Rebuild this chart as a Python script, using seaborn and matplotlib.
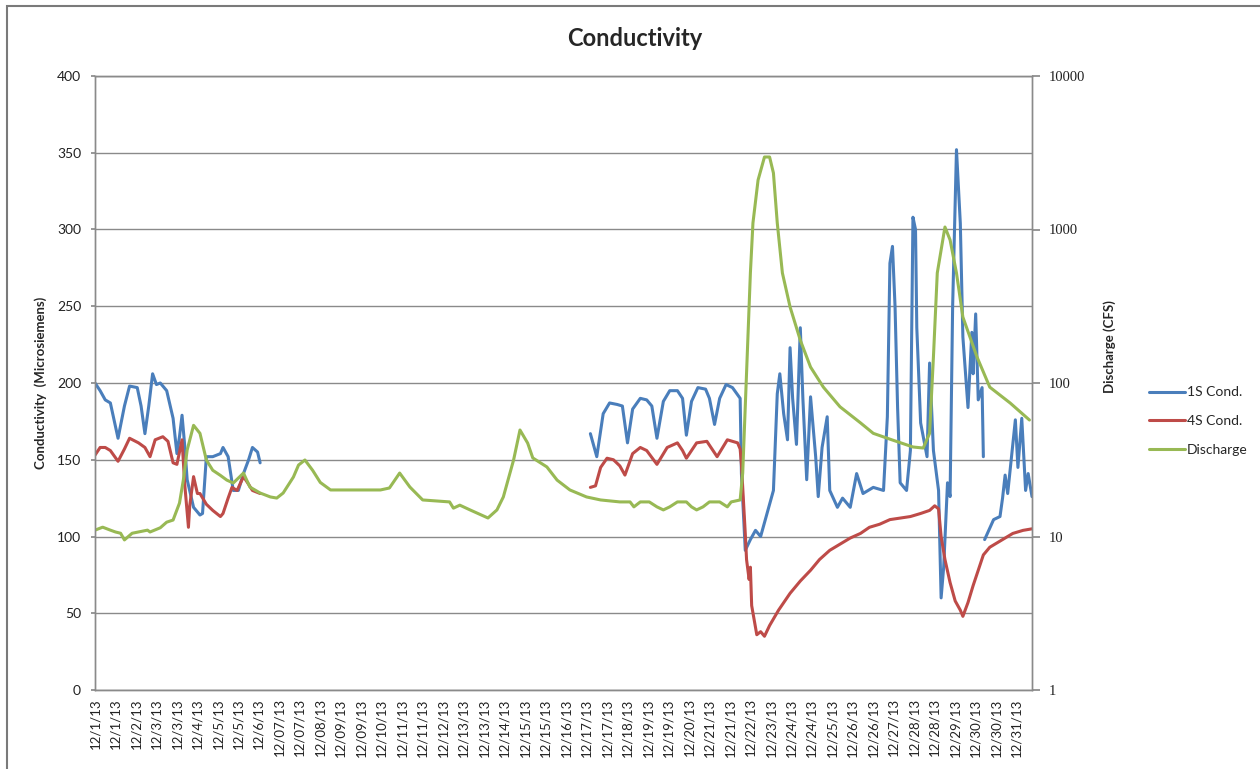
import numpy as np
import pandas as pd
import seaborn as sns
import matplotlib.pyplot as plt
from matplotlib.lines import Line2D
from matplotlib.patches import Rectangle

# hours since 12/1/13 00:00
blue1_h = [0, 4, 8, 12, 18, 23, 27, 33, 36, 39, 42, 45, 48, 51, 56, 61, 64, 66, 68, 70,
           72, 77, 82, 84, 87, 92, 98, 100, 104, 108, 112, 116, 120, 123, 127, 129]
blue1_v = [200, 195, 189, 187, 164, 185, 198, 197, 185, 167, 185, 206, 199, 200, 195, 177, 154, 165, 179, 160,
           137, 119, 114, 115, 152, 152, 154, 158, 152, 130, 130, 141, 150, 158, 155, 148]

blue2_h = [387, 392, 397, 402, 408, 412, 416, 420, 426, 431, 435, 439, 444, 449, 455, 459, 462, 466, 471, 477,
           480, 484, 488, 493, 498, 504, 505, 508, 512, 516, 520, 525, 530, 533, 535, 538, 541, 543, 545, 548,
           551, 553, 556, 559, 563, 565, 568, 572, 574, 580, 584, 590, 595, 600, 608, 616, 619, 621, 623, 625,
           627, 629, 634, 637, 639, 641, 642, 645, 650, 652, 655, 659, 661, 663, 666, 668, 670, 673, 676, 678,
           682, 685, 686, 688, 690, 693, 694]
blue2_v = [167, 152, 180, 187, 186, 185, 161, 183, 190, 189, 185, 164, 188, 195, 195, 190, 166, 188, 197, 196,
           190, 173, 190, 199, 197, 190, 141, 91, 98, 104, 100, 115, 130, 193, 206, 180, 163, 223, 190, 160,
           236, 190, 137, 191, 152, 126, 158, 178, 130, 119, 125, 119, 141, 128, 132, 130, 178, 278, 289, 250,
           184, 135, 130, 156, 308, 300, 236, 174, 152, 213, 156, 130, 60, 80, 135, 126, 250, 352, 304, 230,
           184, 233, 206, 245, 189, 197, 152]

blue3_h = [695, 702, 707, 709, 711, 713, 716, 719, 721, 724, 727, 729, 732]
blue3_v = [98, 111, 113, 125, 140, 128, 152, 176, 145, 177, 130, 141, 126]

red1_h = [0, 4, 8, 12, 18, 23, 27, 34, 39, 43, 47, 53, 57, 61, 64, 68, 70, 73, 74, 77,
          80, 82, 87, 92, 98, 100, 104, 107, 111, 116, 120, 123, 129]
red1_v = [153, 158, 158, 156, 149, 157, 164, 161, 158, 152, 163, 165, 162, 148, 147, 163, 135, 106, 120, 139,
          128, 128, 121, 117, 113, 115, 125, 132, 130, 139, 134, 130, 128]

red2_h = [387, 391, 395, 400, 405, 410, 414, 420, 426, 431, 439, 447, 455, 459, 462, 470, 478, 486, 494, 502,
          504, 505, 508, 509, 511, 512, 513, 517, 520, 523, 527, 534, 543, 551, 559, 566, 574, 582, 590, 598,
          605, 613, 621, 629, 637, 645, 652, 656, 659, 661, 664, 668, 672, 676, 678, 682, 686, 690, 694, 699,
          707, 717, 725, 732]
red2_v = [132, 133, 145, 151, 150, 146, 140, 154, 158, 156, 147, 158, 161, 156, 151, 161, 162, 152, 163, 161,
          157, 147, 102, 85, 72, 80, 55, 36, 38, 35, 42, 52, 63, 71, 78, 85, 91, 95, 99, 102,
          106, 108, 111, 112, 113, 115, 117, 120, 118, 100, 85, 70, 58, 52, 48, 57, 68, 78, 88, 93,
          97, 102, 104, 105]

flow_h = [0, 6, 12, 16, 20, 23, 29, 41, 43, 51, 56, 61, 66, 69, 72, 77, 82, 87, 92, 98,
          103, 108, 116, 121, 129, 137, 142, 147, 155, 159, 164, 170, 176, 184, 195, 207, 223, 230, 238, 246,
          256, 277, 280, 285, 293, 307, 314, 319, 327, 332, 338, 342, 353, 361, 371, 384,
          395, 410, 418, 421, 426, 433, 439, 444, 449, 455, 462, 466, 470, 475, 480, 488, 494, 497, 504,
          506, 509, 512, 514, 518, 523, 527, 530, 533, 537, 543, 551, 559, 569, 582,
          598, 608, 623, 639, 647, 652, 655, 658, 664, 668, 673, 678, 689, 699, 715, 730]
flow_cfs = [11.0, 11.5, 11.0, 10.7, 10.5, 9.5, 10.5, 11.0, 10.7, 11.4, 12.4, 12.8, 16.5, 23.3, 36.6, 53, 47, 31.5, 27, 25,
            23.3, 22.3, 25.9, 21, 19.2, 18.1, 17.8, 19.2, 24.4, 29.2, 31.5, 27, 22.5, 20.1, 20.1, 20.1, 20.1, 20.7, 25.9, 21,
            17.3, 16.8, 15.3, 16, 14.9, 13.2, 14.9, 18.1, 31.5, 49.4, 40.6, 32.5, 28.4, 23.3, 20.1, 18.1,
            17.3, 16.8, 16.8, 15.6, 16.8, 16.8, 15.6, 14.9, 15.6, 16.8, 16.8, 15.6, 14.9, 15.6, 16.8, 16.8, 15.6, 16.8, 17.3,
            25.9, 116, 521, 1103, 2100, 2967, 2967, 2334, 1103, 521, 313, 190, 127, 94, 70,
            55, 47, 42.5, 38.3, 37.7, 47, 148, 521, 1038, 855, 521, 269, 148, 94, 74, 57.4]

date_labels = ['12/1/13', '12/1/13', '12/2/13', '12/3/13', '12/3/13', '12/4/13', '12/5/13', '12/5/13', '12/6/13',
               '12/07/13', '12/07/13', '12/08/13', '12/09/13', '12/09/13', '12/10/13', '12/11/13', '12/11/13',
               '12/12/13', '12/13/13', '12/13/13', '12/14/13', '12/15/13', '12/15/13', '12/16/13',
               '12/17/13', '12/17/13', '12/18/13', '12/19/13', '12/19/13', '12/20/13', '12/21/13', '12/21/13',
               '12/22/13', '12/23/13', '12/24/13', '12/24/13', '12/25/13', '12/26/13', '12/26/13', '12/27/13',
               '12/28/13', '12/28/13', '12/29/13', '12/30/13', '12/30/13', '12/31/13']

cond_ticks = [0, 50, 100, 150, 200, 250, 300, 350, 400]
flow_ticks = [1, 10, 100, 1000, 10000]

colors = {'1S Cond.': '#4a7ebb', '4S Cond.': '#be4b48', 'Discharge': '#98b954'}
grey = '#8a8a8a'
lw = 2.2

# build long tables, one segment id per unbroken run of data
parts = [('1S Cond.', 0, blue1_h, blue1_v), ('1S Cond.', 1, blue2_h, blue2_v), ('1S Cond.', 2, blue3_h, blue3_v),
         ('4S Cond.', 3, red1_h, red1_v), ('4S Cond.', 4, red2_h, red2_v)]
cond_df = pd.concat([pd.DataFrame({'hour': h, 'value': v, 'series': s, 'segment': seg})
                     for s, seg, h, v in parts], ignore_index=True)
flow_df = pd.DataFrame({'hour': flow_h, 'cfs': flow_cfs})

sns.set_theme(style='white')
plt.rcParams['font.family'] = ['Lato', 'DejaVu Sans']

fig = plt.figure(figsize=(12.6, 7.69), dpi=100)
ax = fig.add_axes([95 / 1260, 1 - 690 / 769, 937 / 1260, 614 / 769])

ax.yaxis.grid(True, color=grey, linewidth=1)
ax.set_axisbelow(True)

sns.lineplot(data=cond_df, x='hour', y='value', hue='series', units='segment', estimator=None,
             sort=False, palette=colors, linewidth=lw, legend=False, ax=ax)

ax.set_xlim(0, 732)
ax.set_ylim(0, 400)
ax.set_yticks(cond_ticks)
ax.set_yticklabels([str(t) for t in cond_ticks])
ax.set_xticks(np.arange(len(date_labels)) * 16)
ax.set_xticklabels(date_labels, rotation=90)
ax.tick_params(axis='x', length=0, pad=6, labelsize=9.5, labelcolor='#222222')
ax.tick_params(axis='y', length=3, color=grey, pad=7, labelsize=10, labelcolor='#222222')
ax.set_xlabel('')
ax.set_ylabel('Conductivity  (Microsiemens)', fontsize=9.5, fontweight='bold')
ax.yaxis.set_label_coords(-0.051, 0.5)

ax2 = ax.twinx()
ax2.set_yscale('log')
sns.lineplot(data=flow_df, x='hour', y='cfs', color=colors['Discharge'], linewidth=lw, ax=ax2)
ax2.set_ylim(1, 10000)
ax2.set_yticks(flow_ticks)
ax2.set_yticklabels([str(t) for t in flow_ticks], family='Liberation Serif')
ax2.yaxis.set_minor_locator(plt.NullLocator())
ax2.tick_params(axis='y', which='major', length=6, color=grey, pad=6, labelsize=10.5, labelcolor='#222222')
ax2.set_ylabel('Discharge (CFS)', fontsize=9.5, fontweight='bold')
ax2.yaxis.set_label_coords(1.076, 0.56)

for a in (ax, ax2):
    for sp in a.spines.values():
        sp.set_color(grey)
        sp.set_linewidth(1)

fig.suptitle('Conductivity', x=635 / 1260, y=1 - 27 / 769, fontsize=17, fontweight='bold')

handles = [Line2D([], [], color=c, linewidth=lw) for c in colors.values()]
fig.legend(handles, list(colors.keys()), loc='upper left', bbox_to_anchor=(1136 / 1260, 1 - 374 / 769),
           frameon=False, fontsize=10, handlelength=2.6, handletextpad=0.15, labelspacing=1.2)

# outer chart frame
fig.patches.append(Rectangle((7 / 1260, -0.05), 1.2, 1.05 - 6 / 769, transform=fig.transFigure,
                             fill=False, edgecolor='#7a7a7a', linewidth=1.5))

fig.savefig('out.png', dpi=100)
